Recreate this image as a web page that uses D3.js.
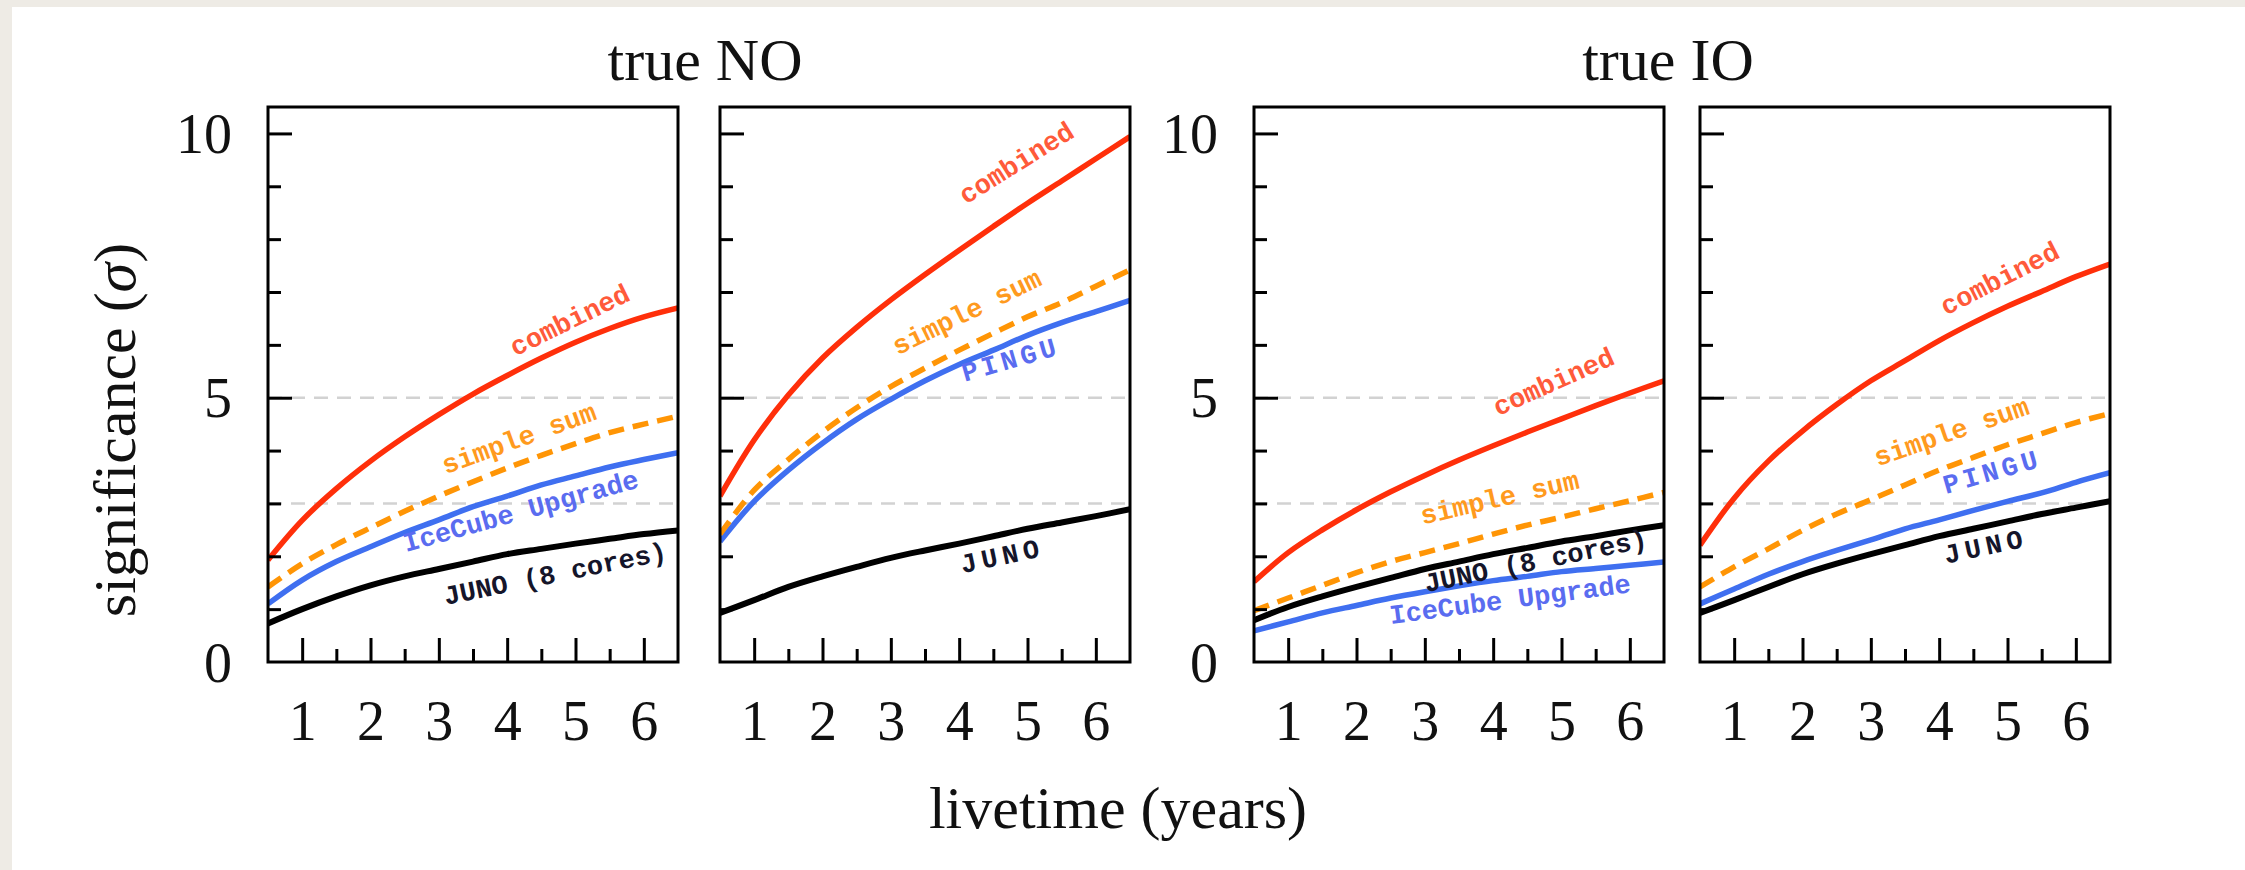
<!DOCTYPE html>
<html>
<head>
<meta charset="utf-8">
<script src="https://cdn.jsdelivr.net/npm/d3@7"></script>
<style>
  html, body { margin: 0; padding: 0; background: #eeebe5; }
  svg { display: block; }
</style>
</head>
<body>
<svg id="chart" width="2245" height="870"></svg>
<script>
// Livetime sampling (years)
const livetime = [0.5, 1, 1.5, 2, 2.5, 3, 3.5, 4, 4.5, 5, 5.5, 6, 6.5];

// True NO, JUNO (8 cores) + IceCube Upgrade
const noUpgradeCombined  = [1.93, 2.68, 3.28, 3.80, 4.26, 4.68, 5.07, 5.42, 5.75, 6.05, 6.31, 6.53, 6.70];
const noUpgradeSimpleSum = [1.42, 1.86, 2.22, 2.54, 2.85, 3.14, 3.41, 3.67, 3.91, 4.13, 4.34, 4.50, 4.65];
const noUpgradeIceCube   = [1.10, 1.55, 1.90, 2.18, 2.45, 2.69, 2.94, 3.14, 3.35, 3.52, 3.69, 3.83, 3.96];
const noUpgradeJuno      = [0.73, 1.00, 1.24, 1.45, 1.62, 1.76, 1.90, 2.04, 2.14, 2.24, 2.33, 2.42, 2.49];

// True NO, JUNO + PINGU
const noPinguCombined    = [3.14, 4.20, 5.05, 5.75, 6.33, 6.85, 7.33, 7.79, 8.24, 8.68, 9.10, 9.52, 9.94];
const noPinguSimpleSum   = [2.42, 3.25, 3.83, 4.35, 4.81, 5.21, 5.56, 5.90, 6.22, 6.53, 6.80, 7.11, 7.42];
const noPinguPingu       = [2.28, 3.04, 3.63, 4.14, 4.59, 4.97, 5.32, 5.63, 5.90, 6.18, 6.42, 6.63, 6.84];
const noPinguJuno        = [0.93, 1.17, 1.42, 1.62, 1.80, 1.97, 2.11, 2.24, 2.38, 2.52, 2.64, 2.76, 2.89];

// True IO, JUNO (8 cores) + IceCube Upgrade
const ioUpgradeCombined  = [1.52, 2.07, 2.50, 2.88, 3.22, 3.53, 3.82, 4.09, 4.35, 4.60, 4.85, 5.09, 5.32];
const ioUpgradeSimpleSum = [0.97, 1.21, 1.45, 1.69, 1.90, 2.07, 2.24, 2.42, 2.59, 2.74, 2.90, 3.05, 3.21];
const ioUpgradeIceCube   = [0.59, 0.76, 0.93, 1.07, 1.21, 1.33, 1.44, 1.54, 1.62, 1.71, 1.77, 1.83, 1.89];
const ioUpgradeJuno      = [0.79, 1.04, 1.24, 1.42, 1.59, 1.76, 1.90, 2.04, 2.16, 2.28, 2.38, 2.49, 2.59];

// True IO, JUNO + PINGU
const ioPinguCombined    = [2.21, 3.10, 3.80, 4.37, 4.87, 5.32, 5.70, 6.08, 6.42, 6.73, 7.01, 7.29, 7.53];
const ioPinguSimpleSum   = [1.42, 1.80, 2.14, 2.49, 2.80, 3.07, 3.35, 3.63, 3.87, 4.11, 4.32, 4.53, 4.70];
const ioPinguPingu       = [1.10, 1.38, 1.66, 1.90, 2.11, 2.31, 2.52, 2.69, 2.87, 3.04, 3.20, 3.40, 3.58];
const ioPinguJuno        = [0.93, 1.17, 1.42, 1.66, 1.86, 2.04, 2.21, 2.38, 2.52, 2.66, 2.80, 2.92, 3.04];

// Axis ticks
const yMajorTicks = [5, 10];
const yMinorTicks = [1, 2, 3, 4, 6, 7, 8, 9];
const yLabelTicks = [0, 5, 10];
const xMajorTicks = [1, 2, 3, 4, 5, 6];
const xMinorTicks = [1.5, 2.5, 3.5, 4.5, 5.5];
const referenceLevels = [3, 5];

const titles = ["true NO", "true IO"];

// ---------------------------------------------------------------------------
const W = 2245, H = 870;
const panelTop = 107, panelBottom = 662, panelWidth = 410;
const panelLefts = [268, 720, 1254, 1700];

const colors = {
  combined: "#ff2f0a",
  simple:   "#ff9505",
  detector: "#3f6ff0",
  juno:     "#000000"
};
const labelColors = {
  combined: "#ff5a3a",
  simple:   "#ff9a1e",
  detector: "#5a6cf0",
  juno:     "#15152a"
};

// Each panel: its series plus curve-following labels (t, sigma, angle)
const panels = [
  {
    series: [
      { key: "juno", values: noUpgradeJuno },
      { key: "detector", values: noUpgradeIceCube },
      { key: "simple", values: noUpgradeSimpleSum, dashed: true },
      { key: "combined", values: noUpgradeCombined }
    ],
    labels: [
      { key: "combined", text: "combined", t: 4.12, v: 5.78, angle: 26 },
      { key: "simple", text: "simple sum", t: 3.10, v: 3.55, angle: 20 },
      { key: "detector", text: "IceCube Upgrade", t: 2.52, v: 2.08, angle: 15.5 },
      { key: "juno", text: "JUNO (8 cores)", t: 3.10, v: 1.08, angle: 11.5 }
    ]
  },
  {
    series: [
      { key: "juno", values: noPinguJuno },
      { key: "detector", values: noPinguPingu },
      { key: "simple", values: noPinguSimpleSum, dashed: true },
      { key: "combined", values: noPinguCombined }
    ],
    labels: [
      { key: "combined", text: "combined", t: 4.10, v: 8.65, angle: 32 },
      { key: "simple", text: "simple sum", t: 3.10, v: 5.80, angle: 26 },
      { key: "detector", text: "PINGU", t: 4.08, v: 5.30, angle: 16, spacing: 4 },
      { key: "juno", text: "JUNO", t: 4.05, v: 1.68, angle: 12, spacing: 5 }
    ]
  },
  {
    series: [
      { key: "detector", values: ioUpgradeIceCube },
      { key: "juno", values: ioUpgradeJuno },
      { key: "simple", values: ioUpgradeSimpleSum, dashed: true },
      { key: "combined", values: ioUpgradeCombined }
    ],
    labels: [
      { key: "combined", text: "combined", t: 4.07, v: 4.65, angle: 24 },
      { key: "simple", text: "simple sum", t: 2.97, v: 2.60, angle: 13 },
      { key: "juno", text: "JUNO (8 cores)", t: 3.02, v: 1.32, angle: 11.5 },
      { key: "detector", text: "IceCube Upgrade", t: 2.50, v: 0.72, angle: 7.5 }
    ]
  },
  {
    series: [
      { key: "juno", values: ioPinguJuno },
      { key: "detector", values: ioPinguPingu },
      { key: "simple", values: ioPinguSimpleSum, dashed: true },
      { key: "combined", values: ioPinguCombined }
    ],
    labels: [
      { key: "combined", text: "combined", t: 4.10, v: 6.55, angle: 27 },
      { key: "simple", text: "simple sum", t: 3.10, v: 3.70, angle: 19 },
      { key: "detector", text: "PINGU", t: 4.10, v: 3.18, angle: 16, spacing: 4 },
      { key: "juno", text: "JUNO", t: 4.10, v: 1.86, angle: 12, spacing: 5 }
    ]
  }
];

const svg = d3.select("#chart");

// page background and white sheet
svg.append("rect").attr("width", W).attr("height", H).attr("fill", "#eeebe5");
svg.append("rect").attr("x", 12).attr("y", 7).attr("width", W - 12).attr("height", H - 7).attr("fill", "#ffffff");

const serif = "'Liberation Serif', 'Times New Roman', serif";
const mono = "'Liberation Mono', 'DejaVu Sans Mono', monospace";

const defs = svg.append("defs");

panels.forEach((panel, i) => {
  const left = panelLefts[i];
  const x = d3.scaleLinear().domain([0.5, 6.5]).range([left, left + panelWidth]);
  const y = d3.scaleLinear().domain([0, 10.5]).range([panelBottom, panelTop]);

  const g = svg.append("g").attr("class", "panel");

  defs.append("clipPath").attr("id", "clip" + i)
    .append("rect")
    .attr("x", left).attr("y", panelTop)
    .attr("width", panelWidth).attr("height", panelBottom - panelTop);

  // 3 sigma and 5 sigma guides
  g.selectAll("line.ref").data(referenceLevels).join("line")
    .attr("class", "ref")
    .attr("x1", x(0.5)).attr("x2", x(6.5))
    .attr("y1", d => y(d)).attr("y2", d => y(d))
    .attr("stroke", "#d2d2d2").attr("stroke-width", 2.5)
    .attr("stroke-dasharray", "14,9");

  // curves
  const line = d3.line()
    .x((d, k) => x(livetime[k]))
    .y(d => y(d))
    .curve(d3.curveCatmullRom.alpha(0.5));

  const curves = g.append("g").attr("clip-path", `url(#clip${i})`);
  panel.series.forEach(s => {
    curves.append("path")
      .datum(s.values)
      .attr("d", line)
      .attr("fill", "none")
      .attr("stroke", colors[s.key])
      .attr("stroke-width", s.key === "juno" ? 6 : 5.5)
      .attr("stroke-dasharray", s.dashed ? "16,9" : null)
      .attr("stroke-linecap", "butt");
  });

  // curve labels
  panel.labels.forEach(l => {
    const px = x(l.t), py = y(l.v);
    g.append("text")
      .attr("transform", `translate(${px},${py}) rotate(${-l.angle})`)
      .attr("font-family", mono)
      .attr("font-weight", "bold")
      .attr("font-size", 27)
      .attr("letter-spacing", l.spacing || 0)
      .attr("fill", labelColors[l.key])
      .text(l.text);
  });

  // inward ticks
  const tickStyle = sel => {
    sel.select(".domain").remove();
    sel.selectAll(".tick line").attr("stroke", "#000").attr("stroke-width", 3);
    sel.selectAll(".tick text").remove();
  };
  g.append("g").attr("transform", `translate(${left},0)`)
    .call(d3.axisLeft(y).tickValues(yMajorTicks).tickSize(-24).tickFormat(""))
    .call(tickStyle);
  g.append("g").attr("transform", `translate(${left},0)`)
    .call(d3.axisLeft(y).tickValues(yMinorTicks).tickSize(-13).tickFormat(""))
    .call(tickStyle);
  g.append("g").attr("transform", `translate(0,${panelBottom})`)
    .call(d3.axisBottom(x).tickValues(xMajorTicks).tickSize(-24).tickFormat(""))
    .call(tickStyle);
  g.append("g").attr("transform", `translate(0,${panelBottom})`)
    .call(d3.axisBottom(x).tickValues(xMinorTicks).tickSize(-13).tickFormat(""))
    .call(tickStyle);

  // frame
  g.append("rect")
    .attr("x", left).attr("y", panelTop)
    .attr("width", panelWidth).attr("height", panelBottom - panelTop)
    .attr("fill", "none").attr("stroke", "#000").attr("stroke-width", 3);

  // x tick labels
  const xl = g.append("g").attr("transform", `translate(0,${panelBottom})`)
    .call(d3.axisBottom(x).tickValues(xMajorTicks).tickSize(0).tickFormat(d3.format("d")));
  xl.select(".domain").remove();
  xl.selectAll(".tick text")
    .attr("y", 78).attr("dy", 0)
    .attr("font-family", serif).attr("font-size", 56).attr("fill", "#111");

  // y tick labels on the first panel of each group
  if (i % 2 === 0) {
    const yl = g.append("g").attr("transform", `translate(${left},0)`)
      .call(d3.axisLeft(y).tickValues(yLabelTicks).tickSize(0).tickPadding(36).tickFormat(d3.format("d")));
    yl.select(".domain").remove();
    yl.selectAll(".tick text")
      .attr("dy", "0.34em")
      .attr("font-family", serif).attr("font-size", 56).attr("fill", "#111");
  }
});

// group titles
svg.selectAll("text.title").data(titles).join("text")
  .attr("class", "title")
  .attr("x", (d, k) => k === 0 ? 705 : 1668)
  .attr("y", 80)
  .attr("text-anchor", "middle")
  .attr("font-family", serif).attr("font-size", 60).attr("fill", "#111")
  .text(d => d);

// axis titles
const yTitle = svg.append("text")
  .attr("transform", "translate(135,430) rotate(-90)")
  .attr("text-anchor", "middle")
  .attr("font-family", serif).attr("font-size", 60).attr("fill", "#111");
yTitle.append("tspan").text("significance (");
yTitle.append("tspan").attr("font-style", "italic").text("σ");
yTitle.append("tspan").text(")");

svg.append("text")
  .attr("x", 1118).attr("y", 828)
  .attr("text-anchor", "middle")
  .attr("font-family", serif).attr("font-size", 60).attr("fill", "#111")
  .text("livetime (years)");
</script>
</body>
</html>
